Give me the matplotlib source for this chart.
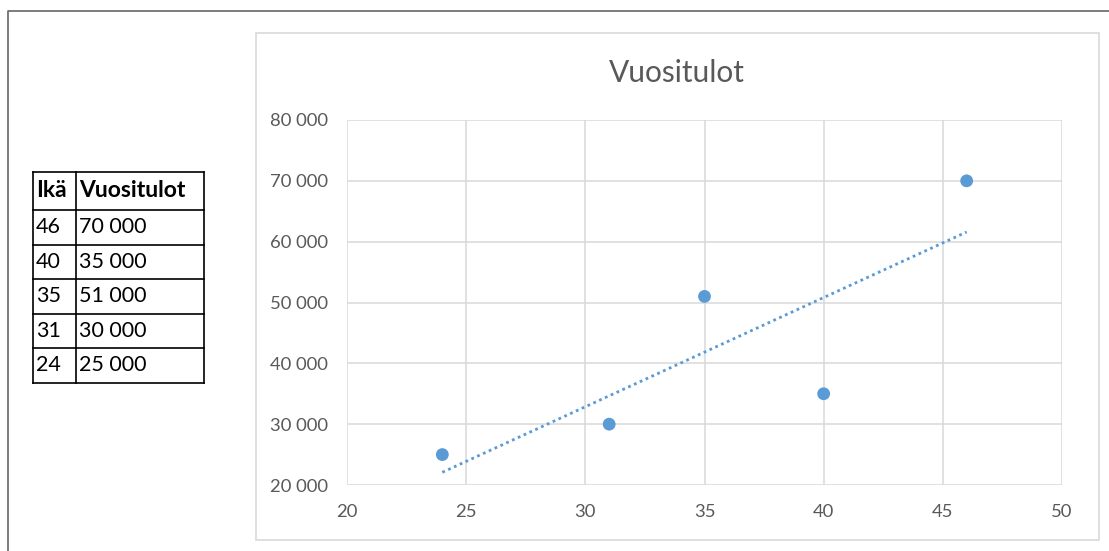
import numpy as np
import matplotlib.pyplot as plt
from matplotlib.lines import Line2D
from matplotlib.patches import Rectangle
from matplotlib.ticker import FuncFormatter, MultipleLocator

plt.rcParams['font.family'] = ['Lato', 'DejaVu Sans']

# data
ika = [46, 40, 35, 31, 24]
vuositulot = [70000, 35000, 51000, 30000, 25000]
headers = ["Ikä", "Vuositulot"]
title = "Vuositulot"

blue = "#5B9BD5"
grey_text = "#595959"
grid_col = "#D9D9D9"

W, H = 1109, 551


def fx(px):
    return px / W


def fy(py):
    return 1 - py / H


def fmt(v, pos=None):
    return f"{v:,.0f}".replace(",", " ")


fig = plt.figure(figsize=(W / 100, H / 100), dpi=100)

# outer frame (only top and left visible)
fig.add_artist(Line2D([fx(8), fx(8), 1], [0, fy(11), fy(11)], color="#666666", lw=1.2))

# chart area border
fig.add_artist(Rectangle((fx(256), fy(540)), fx(1099 - 256), (540 - 33) / H,
                         fill=False, ec=grid_col, lw=1.2))

# plot area
ax = fig.add_axes([fx(347), fy(485), fx(1062 - 347), (485 - 120) / H])
x = np.array(ika)
y = np.array(vuositulot)
k, b = np.polyfit(x, y, 1)
xl = np.array([x.min(), x.max()])
ax.plot(xl, k * xl + b, color=blue, lw=2, linestyle=(0, (1, 1.3)), zorder=2)
ax.scatter(x, y, s=85, color=blue, zorder=3, edgecolors="none")

ax.set_xlim(20, 50)
ax.set_ylim(20000, 80000)
ax.xaxis.set_major_locator(MultipleLocator(5))
ax.yaxis.set_major_locator(MultipleLocator(10000))
ax.yaxis.set_major_formatter(FuncFormatter(fmt))
ax.grid(True, color=grid_col, lw=1.1)
ax.set_axisbelow(True)
for s in ax.spines.values():
    s.set_visible(False)
ax.tick_params(length=0, labelsize=13.3, labelcolor=grey_text)
ax.tick_params(axis="y", pad=13.5)
ax.tick_params(axis="x", pad=14)

fig.text(fx(677), fy(73), title, ha="center", va="center", fontsize=21.5, color=grey_text)

# table on the left
col_x = [33, 76, 204]
row_y = [172, 210, 244.5, 279, 313.5, 348, 382.5]
for cx in col_x:
    fig.add_artist(Line2D([fx(cx), fx(cx)], [fy(row_y[0]), fy(row_y[-1])], color="black", lw=1.2))
for ry in row_y:
    fig.add_artist(Line2D([fx(col_x[0]), fx(col_x[-1])], [fy(ry), fy(ry)], color="black", lw=1.2))

cells = [headers] + [[str(a), fmt(v)] for a, v in zip(ika, vuositulot)]
for r, row in enumerate(cells):
    yc = (row_y[r] + row_y[r + 1]) / 2
    for c, txt in enumerate(row):
        fig.text(fx(col_x[c] + 3), fy(yc), txt, ha="left", va="center",
                 fontsize=16.5 if r == 0 else 15.5,
                 color="black", fontweight="bold" if r == 0 else "normal")

fig.savefig("out.png", dpi=100)
